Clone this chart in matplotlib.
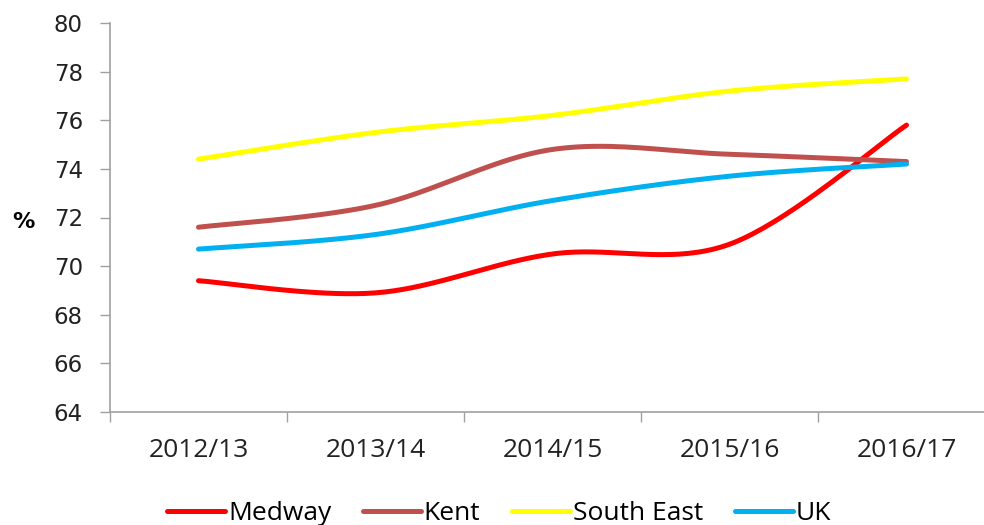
import numpy as np
import matplotlib
matplotlib.use("Agg")
from matplotlib import pyplot as plt

years = ["2012/13", "2013/14", "2014/15", "2015/16", "2016/17"]
medway = [69.4, 68.9, 70.5, 70.9, 75.8]
kent = [71.6, 72.5, 74.8, 74.6, 74.3]
south_east = [74.4, 75.5, 76.2, 77.2, 77.7]
uk = [70.7, 71.3, 72.7, 73.7, 74.2]

series = [
    ("Medway", medway, "#FF0000"),
    ("Kent", kent, "#C0504D"),
    ("South East", south_east, "#FFFF00"),
    ("UK", uk, "#00B0F0"),
]


def smooth(xs, ys, n=40):
    # Excel-like smoothed line: Catmull-Rom through the points
    xs = np.asarray(xs, float)
    ys = np.asarray(ys, float)
    px = np.concatenate([[xs[0]], xs, [xs[-1]]])
    py = np.concatenate([[ys[0]], ys, [ys[-1]]])
    out_x, out_y = [], []
    t = np.linspace(0, 1, n)
    for i in range(1, len(px) - 2):
        p0, p1, p2, p3 = [np.array([px[j], py[j]]) for j in range(i - 1, i + 3)]
        c1 = p1 + (p2 - p0) / 6
        c2 = p2 - (p3 - p1) / 6
        b = ((1 - t) ** 3)[:, None] * p1 + (3 * (1 - t) ** 2 * t)[:, None] * c1 \
            + (3 * (1 - t) * t ** 2)[:, None] * c2 + (t ** 3)[:, None] * p2
        out_x.extend(b[:, 0])
        out_y.extend(b[:, 1])
    return out_x, out_y


fig = plt.figure(figsize=(9.84, 5.25), dpi=100)
ax = fig.add_axes([110 / 984, 1 - 412 / 525, 885 / 984, 389 / 525])

x = np.arange(len(years))
for name, vals, color in series:
    sx, sy = smooth(x, vals)
    ax.plot(sx, sy, color=color, lw=3.6, solid_capstyle="round", label=name)

ax.set_xlim(-0.5, len(years) - 0.5)
ax.set_ylim(64, 80)
ax.set_yticks(np.arange(64, 81, 2))
ax.set_xticks(x)
ax.set_xticklabels(years, fontsize=19, family="Open Sans")
ax.set_xticks(np.arange(-0.5, len(years), 1), minor=True)
ax.tick_params(axis="x", which="major", length=0, pad=19, colors="#222222")
ax.tick_params(axis="x", which="minor", length=7.5, width=1, color="#A0A0A0")
ax.tick_params(axis="y", length=7.5, width=1, color="#A0A0A0", labelsize=16.5,
               labelcolor="#222222", pad=12)

for s in ["top", "right"]:
    ax.spines[s].set_visible(False)
for s in ["left", "bottom"]:
    ax.spines[s].set_color("#A0A0A0")
    ax.spines[s].set_linewidth(1.2)

fig.text(23 / 984, 1 - 222 / 525, "%", fontsize=16, fontweight="bold",
         ha="center", va="center")

fig.legend(loc="center", bbox_to_anchor=(499 / 984, 1 - 514 / 525), ncol=4,
           frameon=False, prop={"family": "Open Sans", "size": 19},
           handlelength=2.2, handletextpad=0.1, columnspacing=1.2)

fig.savefig("out.png", dpi=100)
